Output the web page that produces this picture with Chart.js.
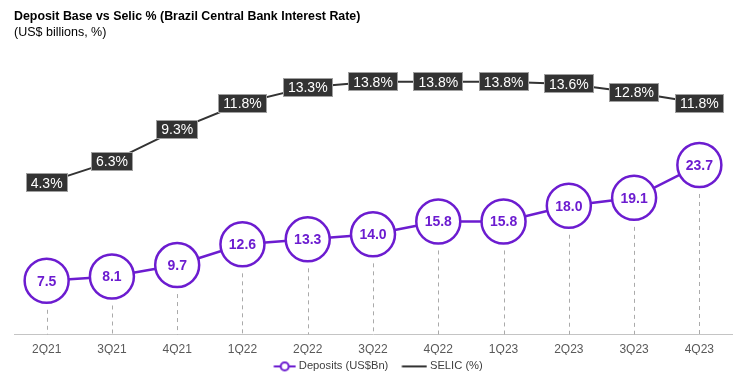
<!DOCTYPE html>
<html>
<head>
<meta charset="utf-8">
<script src="https://cdn.jsdelivr.net/npm/chart.js@4/dist/chart.umd.min.js"></script>
<style>
  html, body { margin: 0; padding: 0; background: #fff; }
  #wrap { width: 742px; height: 378px; position: relative; overflow: hidden; }
</style>
</head>
<body>
<div id="wrap"><canvas id="c" width="742" height="378"></canvas></div>
<script>
const categories = ['2Q21','3Q21','4Q21','1Q22','2Q22','3Q22','4Q22','1Q23','2Q23','3Q23','4Q23'];
const deposits = [7.5, 8.1, 9.7, 12.6, 13.3, 14.0, 15.8, 15.8, 18.0, 19.1, 23.7];
const selic = [4.3, 6.3, 9.3, 11.8, 13.3, 13.8, 13.8, 13.8, 13.6, 12.8, 11.8];
const titleText = 'Deposit Base vs Selic % (Brazil Central Bank Interest Rate)';
const subtitleText = '(US$ billions, %)';
const seriesNames = ['Deposits (US$Bn)', 'SELIC (%)'];

const PURPLE = '#6C1CD0';
const DARK = '#333333';
const FONT = "'Liberation Sans', Arial, sans-serif";

function makeMarker(kind) {
  const cv = document.createElement('canvas');
  cv.width = 36; cv.height = 12;
  const g = cv.getContext('2d');
  if (kind === 'dep') {
    g.strokeStyle = PURPLE; g.lineWidth = 2;
    g.beginPath(); g.moveTo(13.5, 6); g.lineTo(35.5, 6); g.stroke();
    g.fillStyle = '#fff';
    g.beginPath(); g.arc(24.5, 6, 4, 0, Math.PI * 2); g.fill(); g.stroke();
  } else {
    g.strokeStyle = DARK; g.lineWidth = 2;
    g.beginPath(); g.moveTo(10.5, 6); g.lineTo(35.5, 6); g.stroke();
  }
  return cv;
}
const markers = [makeMarker('dep'), makeMarker('selic')];

const dropLines = {
  id: 'dropLines',
  beforeDatasetsDraw(chart) {
    const meta = chart.getDatasetMeta(0);
    const ctx = chart.ctx;
    const bottom = chart.chartArea.bottom;
    ctx.save();
    ctx.strokeStyle = '#aaaaaa';
    ctx.lineWidth = 1;
    ctx.setLineDash([4, 4]);
    meta.data.forEach(pt => {
      ctx.beginPath();
      ctx.moveTo(Math.round(pt.x) + 0.5, pt.y + 29);
      ctx.lineTo(Math.round(pt.x) + 0.5, bottom);
      ctx.stroke();
    });
    ctx.restore();
  }
};

const valueLabels = {
  id: 'valueLabels',
  afterDatasetsDraw(chart) {
    const ctx = chart.ctx;
    ctx.save();
    ctx.textAlign = 'center';
    ctx.textBaseline = 'middle';
    const m0 = chart.getDatasetMeta(0);
    ctx.font = 'bold 14px ' + FONT;
    ctx.fillStyle = PURPLE;
    m0.data.forEach((pt, i) => {
      ctx.fillText(deposits[i].toFixed(1), pt.x, pt.y + 1);
    });
    const m1 = chart.getDatasetMeta(1);
    ctx.font = '14px ' + FONT;
    m1.data.forEach((pt, i) => {
      const t = selic[i].toFixed(1) + '%';
      const w = Math.round(ctx.measureText(t).width + 10);
      const h = 19;
      const x0 = Math.round(pt.x - w / 2), y0 = Math.round(pt.y - h / 2);
      ctx.fillStyle = DARK;
      ctx.fillRect(x0, y0, w, h);
      ctx.strokeStyle = '#a0a0a0';
      ctx.lineWidth = 1;
      ctx.strokeRect(x0 + 0.5, y0 + 0.5, w - 1, h - 1);
      ctx.fillStyle = '#ffffff';
      ctx.fillText(t, pt.x, pt.y + 1);
    });
    ctx.restore();
  }
};

new Chart(document.getElementById('c'), {
  type: 'line',
  data: {
    labels: categories,
    datasets: [
      {
        label: seriesNames[0],
        data: deposits,
        yAxisID: 'y',
        borderColor: PURPLE,
        borderWidth: 2.5,
        pointRadius: 22,
        pointHoverRadius: 22,
        pointBorderWidth: 2.5,
        pointBackgroundColor: '#ffffff',
        pointBorderColor: PURPLE,
        tension: 0,
        clip: false,
        order: 1
      },
      {
        label: seriesNames[1],
        data: selic,
        yAxisID: 'y1',
        borderColor: DARK,
        borderWidth: 2,
        pointRadius: 0,
        pointHoverRadius: 0,
        tension: 0,
        clip: false,
        order: 2
      }
    ]
  },
  options: {
    responsive: false,
    animation: false,
    events: [],
    layout: { autoPadding: false, padding: { left: 14, right: 10, top: 0, bottom: -4 } },
    scales: {
      x: {
        offset: true,
        grid: { display: false, drawTicks: false },
        border: { display: true, color: '#c4c4c4', dash: [2, 2], width: 1 },
        ticks: { color: '#595959', font: { family: FONT, size: 12 }, padding: 8, maxRotation: 0 },
        afterFit(scale) { scale.height = 20.4; }
      },
      y: { display: false, min: 0, max: 41.06 },
      y1: { display: false, min: -10.0, max: 17.66 }
    },
    plugins: {
      title: {
        display: true,
        text: titleText,
        align: 'start',
        color: '#000000',
        font: { family: FONT, size: 12.4, weight: 'bold' },
        padding: { top: 9, bottom: 0 }
      },
      subtitle: {
        display: true,
        text: subtitleText,
        align: 'start',
        color: '#000000',
        font: { family: FONT, size: 12.5, weight: 'normal' },
        padding: { top: 1, bottom: 1 }
      },
      legend: {
        display: true,
        position: 'bottom',
        labels: {
          usePointStyle: true,
          pointStyleWidth: 30,
          color: '#404040',
          font: { family: FONT, size: 11.2 },
          padding: 6,
          generateLabels(chart) {
            return chart.data.datasets.map((ds, i) => ({
              text: ds.label,
              pointStyle: markers[i],
              fillStyle: 'transparent',
              strokeStyle: 'transparent',
              lineWidth: 0,
              fontColor: '#404040',
              hidden: false,
              datasetIndex: i
            }));
          }
        }
      },
      tooltip: { enabled: false }
    }
  },
  plugins: [dropLines, valueLabels]
});
</script>
</body>
</html>
